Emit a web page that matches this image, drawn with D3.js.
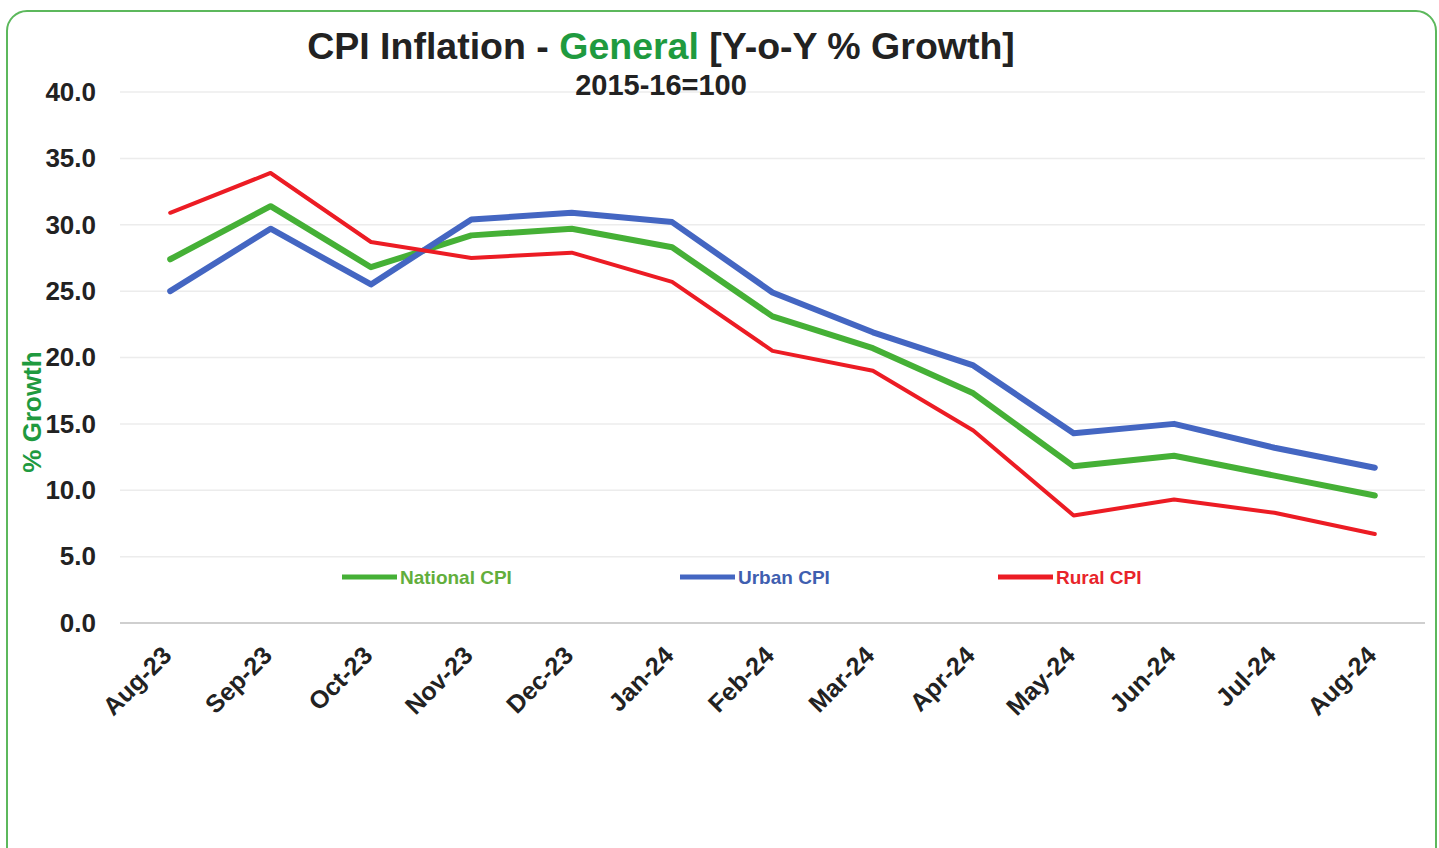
<!DOCTYPE html>
<html lang="en">
<head>
  <meta charset="UTF-8">
  <title>CPI Inflation - General</title>
  <script src="https://d3js.org/d3.v7.min.js"></script>
  <style>
    body { margin: 0; background: #fff; font-family: "Liberation Sans", Arial, sans-serif; }
    svg { display: block; }
  </style>
</head>
<body>
  <svg width="1439" height="848"></svg>
  <script>
    const months = ["Aug-23", "Sep-23", "Oct-23", "Nov-23", "Dec-23", "Jan-24", "Feb-24",
                    "Mar-24", "Apr-24", "May-24", "Jun-24", "Jul-24", "Aug-24"];
    const nationalCPI = [27.4, 31.4, 26.8, 29.2, 29.7, 28.3, 23.1, 20.7, 17.3, 11.8, 12.6, 11.1, 9.6];
    const urbanCPI    = [25.0, 29.7, 25.5, 30.4, 30.9, 30.2, 24.9, 21.9, 19.4, 14.3, 15.0, 13.2, 11.7];
    const ruralCPI    = [30.9, 33.9, 28.7, 27.5, 27.9, 25.7, 20.5, 19.0, 14.5, 8.1, 9.3, 8.3, 6.7];
    const yTicks = [0, 5, 10, 15, 20, 25, 30, 35, 40];

    const series = [
      { name: "National CPI", values: nationalCPI, color: "#45b036", text: "#62ae3c", width: 6, lx: 342 },
      { name: "Urban CPI", values: urbanCPI, color: "#4466c2", text: "#3f5fb0", width: 6, lx: 680 },
      { name: "Rural CPI", values: ruralCPI, color: "#ec1c24", text: "#e8242a", width: 4, lx: 998 }
    ];

    const svg = d3.select("svg");

    // frame
    svg.append("rect")
      .attr("x", 7).attr("y", 11).attr("width", 1429).attr("height", 860)
      .attr("rx", 20)
      .attr("fill", "#fff").attr("stroke", "#5cb85c").attr("stroke-width", 2);

    const x = d3.scaleBand().domain(months).range([120, 1425]);
    const y = d3.scaleLinear().domain([0, 40]).range([623, 92]);

    // grid
    svg.append("g")
      .selectAll("line")
      .data(yTicks)
      .join("line")
      .attr("x1", 120).attr("x2", 1425)
      .attr("y1", d => y(d)).attr("y2", d => y(d))
      .attr("stroke", d => d === 0 ? "#cfcfcf" : "#ececec")
      .attr("stroke-width", d => d === 0 ? 2 : 1.5);

    // y axis
    const yAxis = svg.append("g")
      .attr("transform", "translate(96,0)")
      .call(d3.axisLeft(y).tickValues(yTicks).tickFormat(d3.format(".1f")).tickSize(0).tickPadding(0));
    yAxis.select(".domain").remove();
    yAxis.selectAll("text")
      .attr("font-family", "Liberation Sans, Arial, sans-serif")
      .attr("font-size", 26).attr("font-weight", "bold").attr("fill", "#222");

    // x axis
    const xAxis = svg.append("g")
      .attr("transform", "translate(0,623)")
      .call(d3.axisBottom(x).tickSize(0).tickPadding(0));
    xAxis.select(".domain").remove();
    xAxis.selectAll("text")
      .attr("font-family", "Liberation Sans, Arial, sans-serif")
      .attr("font-size", 25).attr("font-weight", "bold").attr("fill", "#222")
      .attr("text-anchor", "end")
      .attr("dy", 0)
      .attr("transform", "translate(3,34) rotate(-45)");

    // lines
    const line = d3.line()
      .x((d, i) => x(months[i]) + x.bandwidth() / 2)
      .y(d => y(d));

    svg.append("g")
      .selectAll("path")
      .data(series)
      .join("path")
      .attr("d", d => line(d.values))
      .attr("fill", "none")
      .attr("stroke", d => d.color)
      .attr("stroke-width", d => d.width)
      .attr("stroke-linejoin", "round")
      .attr("stroke-linecap", "round");

    // legend
    const leg = svg.append("g")
      .selectAll("g")
      .data(series)
      .join("g")
      .attr("transform", d => `translate(${d.lx},577)`);
    leg.append("line")
      .attr("x1", 0).attr("x2", 55)
      .attr("stroke", d => d.color).attr("stroke-width", 5);
    leg.append("text")
      .attr("x", 58).attr("dy", "0.35em")
      .attr("font-size", 19).attr("font-weight", "bold")
      .attr("fill", d => d.text)
      .text(d => d.name);

    // title
    const title = svg.append("text")
      .attr("x", 661).attr("y", 59)
      .attr("text-anchor", "middle")
      .attr("font-size", 37.5).attr("font-weight", "bold").attr("fill", "#222");
    title.append("tspan").text("CPI Inflation - ");
    title.append("tspan").attr("fill", "#1f9a3f").text("General");
    title.append("tspan").text(" [Y-o-Y % Growth]");

    svg.append("text")
      .attr("x", 661).attr("y", 95)
      .attr("text-anchor", "middle")
      .attr("font-size", 29).attr("font-weight", "bold").attr("fill", "#222")
      .text("2015-16=100");

    svg.append("text")
      .attr("transform", "translate(41,412) rotate(-90)")
      .attr("text-anchor", "middle")
      .attr("font-size", 26).attr("font-weight", "bold").attr("fill", "#1f9a3f")
      .text("% Growth");
  </script>
</body>
</html>
